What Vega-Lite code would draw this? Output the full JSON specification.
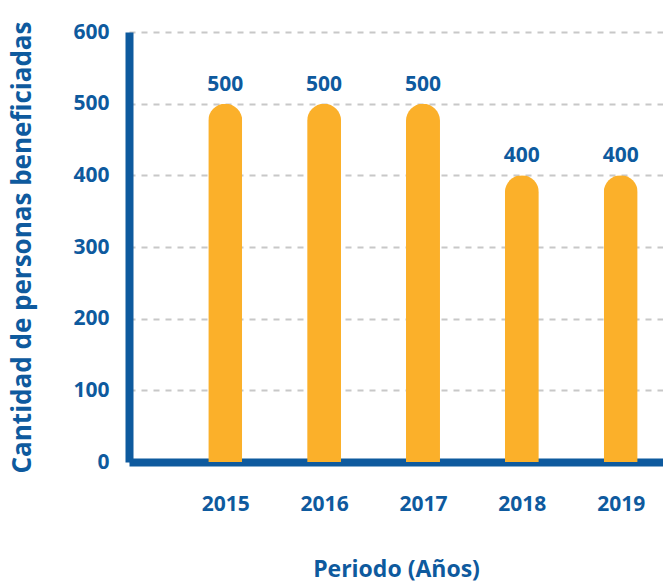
{
  "$schema": "https://vega.github.io/schema/vega-lite/v6.json",
  "width": 534,
  "height": 430,
  "autosize": "none",
  "padding": {"left": 129, "top": 32, "right": 0, "bottom": 120},
  "background": "white",
  "config": {
    "view": {"stroke": null},
    "font": "Open Sans"
  },
  "data": {
    "values": [
      {"year": 2015, "value": 500},
      {"year": 2016, "value": 500},
      {"year": 2017, "value": 500},
      {"year": 2018, "value": 400},
      {"year": 2019, "value": 400}
    ]
  },
  "encoding": {
    "x": {
      "field": "year",
      "type": "quantitative",
      "scale": {"domain": [2014.077, 2019.377], "nice": false, "zero": false},
      "axis": {
        "values": [2015, 2016, 2017, 2018, 2019],
        "format": "d",
        "title": "Periodo (Años)",
        "titleFont": "Open Sans",
        "titleFontSize": 23,
        "titleFontWeight": "bold",
        "titleColor": "#0E5A9E",
        "titlePadding": 44,
        "labelFont": "Open Sans",
        "labelFontSize": 21,
        "labelFontWeight": "bold",
        "labelColor": "#0E5A9E",
        "labelPadding": 31,
        "ticks": false,
        "grid": false,
        "domainColor": "#0E5A9E",
        "domainWidth": 8
      }
    },
    "y": {
      "field": "value",
      "type": "quantitative",
      "scale": {"domain": [0, 600], "nice": false},
      "axis": {
        "values": [0, 100, 200, 300, 400, 500, 600],
        "title": "Cantidad de personas beneficiadas",
        "titleFont": "Open Sans",
        "titleFontSize": 26,
        "titleFontWeight": "bold",
        "titleColor": "#0E5A9E",
        "titlePadding": 37,
        "labelFont": "Open Sans",
        "labelFontSize": 21,
        "labelFontWeight": "bold",
        "labelColor": "#0E5A9E",
        "labelPadding": 20,
        "ticks": false,
        "grid": true,
        "gridColor": "#c8c8c8",
        "gridWidth": 2,
        "gridDash": [6, 6],
        "domainColor": "#0E5A9E",
        "domainWidth": 8
      }
    }
  },
  "layer": [
    {
      "mark": {"type": "bar", "orient": "vertical", "width": 34, "color": "#FBB02A", "cornerRadiusTopLeft": 17, "cornerRadiusTopRight": 17}
    },
    {
      "mark": {"type": "text", "baseline": "bottom", "dy": -9, "fontSize": 21, "fontWeight": "bold", "color": "#0E5A9E", "font": "Open Sans"},
      "encoding": {"text": {"field": "value", "type": "quantitative"}}
    }
  ]
}
